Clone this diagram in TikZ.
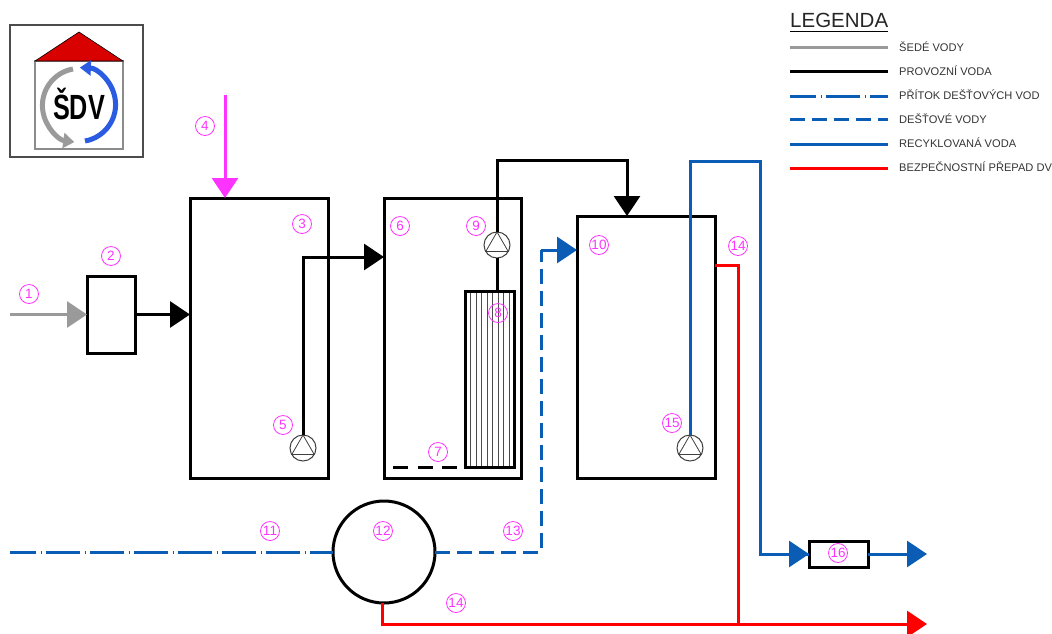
\documentclass[tikz,border=0pt]{standalone}
\usepackage{fontspec}
\setmainfont{Liberation Sans}
\usetikzlibrary{arrows.meta}

\definecolor{greywater}{HTML}{9A9A9A}
\definecolor{rainblue}{HTML}{0B5CB5}
\definecolor{safetyred}{HTML}{FF0000}
\definecolor{numpink}{HTML}{FF33FF}
\definecolor{roofred}{HTML}{D90000}
\definecolor{logoblue}{HTML}{2A5BE0}

\tikzset{
  flowtip/.style={-{Triangle[length=20pt,width=26pt]}},
  greyline/.style={line width=3pt, greywater},
  blackline/.style={line width=3pt, black},
  inflowline/.style={line width=3pt, rainblue, dash pattern=on 34pt off 4.5pt on 1pt off 4.5pt, dash phase=8pt},
  rainline/.style={line width=3pt, rainblue, dash pattern=on 15pt off 7pt},
  recycleline/.style={line width=3pt, rainblue},
  redline/.style={line width=3pt, safetyred},
  tankbox/.style={draw, line width=3pt, rectangle, inner sep=0pt, outer sep=0pt},
  pumpnode/.style={draw=black!75, line width=1pt, circle, fill=white, minimum size=26pt, inner sep=0pt, outer sep=0pt},
  numlabel/.style={draw=numpink, text=numpink, line width=.8pt, circle, minimum size=19pt, inner sep=0pt, font=\fontsize{13.5}{14}\selectfont},
  legendtext/.style={anchor=west, inner sep=0pt, text=black!80, font=\fontsize{11.1}{12}\selectfont}
}

\begin{document}
\begin{tikzpicture}[x=1pt,y=-1pt]

  \useasboundingbox (0,0) rectangle (1052,633);

  % Logo
  \draw[line width=1.1pt, black!70] (10,25) rectangle (143,157);
  \draw[line width=1.5pt, black!45] (35,61) rectangle (123,149);
  \filldraw[fill=roofred, draw=black, line width=.6pt] (35,61) -- (79,32) -- (123,61) -- cycle;
  \draw[-{Triangle[length=11pt,width=15pt]}, greywater, line width=5pt]
    (73,69) arc[start angle=-100,end angle=-262,radius=37];
  \draw[-{Triangle[length=11pt,width=15pt]}, logoblue, line width=5pt]
    (85,141) arc[start angle=80,end angle=-88,radius=37];
  \node[font=\bfseries\fontsize{35}{35}\selectfont, xscale=.72, inner sep=0pt, anchor=base] (logotext) at (79,119) {ŠDV};

  % Legend
  \node[anchor=west, inner sep=0pt, text=black!85, font=\fontsize{20.5}{22}\selectfont] (legendtitle) at (790,20) {LEGENDA};
  \draw[line width=1pt] (790,31.5) -- (888,31.5);
  \foreach \y/\sty/\txt in {47.5/greyline/ŠEDÉ VODY, 71.5/blackline/PROVOZNÍ VODA,
      96/inflowline/PŘÍTOK DEŠŤOVÝCH VOD, 119.5/rainline/DEŠŤOVÉ VODY,
      144/recycleline/RECYKLOVANÁ VODA, 168/redline/BEZPEČNOSTNÍ PŘEPAD DV} {
    \draw[\sty] (790,\y) -- (888,\y);
    \node[legendtext] at (899,\y-1) {\txt};
  }

  % Tanks and boxes
  \node[tankbox, minimum width=48pt, minimum height=77pt] (screen) at (111,314.5) {};
  \node[tankbox, minimum width=138pt, minimum height=280pt] (tankA) at (259,338) {};
  \node[tankbox, minimum width=137pt, minimum height=280pt] (tankB) at (452.5,338) {};
  \node[tankbox, minimum width=138pt, minimum height=262pt] (tankC) at (646,347) {};
  \node[tankbox, minimum width=59pt, minimum height=26pt] (filter) at (838.5,554) {};
  \node[tankbox, circle, minimum size=102pt] (retention) at (384,552) {};

  % Membrane
  \foreach \x in {470.5,476,...,510} {
    \draw[line width=.8pt, black!70] (\x,291) -- (\x,467);
  }
  \node[tankbox, minimum width=49pt, minimum height=176pt] (membrane) at (489.5,379) {};

  % Aeration
  \draw[black, line width=3pt, dash pattern=on 15pt off 9.5pt] (393,467) -- (458,467);

  % Pumps
  \node[pumpnode] (pumpA) at (303,448) {};
  \node[pumpnode] (pumpB) at (497,245) {};
  \node[pumpnode] (pumpC) at (690,448) {};
  \foreach \p in {pumpA,pumpB,pumpC} {
    \draw[line width=.8pt, black!75] (\p.90) -- (\p.210) -- (\p.330) -- cycle;
  }

  % Free ends of the lines
  \coordinate (greyStart) at (10,314.5);
  \coordinate (drinkStart) at (225,95);
  \coordinate (pumpATurn) at (303,257);
  \coordinate (pumpBTurn) at (627,160);
  \coordinate (inflowStart) at (10,552);
  \coordinate (rainTurn) at (541,250);
  \coordinate (recycleTurn) at (760,161);
  \coordinate (recycleEnd) at (927,554);
  \coordinate (overflowStart) at (715,265);
  \coordinate (overflowJoin) at (738,624);
  \coordinate (redEnd) at (927,624);

  % Grey water and service water
  \draw[greyline, flowtip] (greyStart) -- (screen.west);
  \draw[blackline, flowtip] (screen.east) -- (screen.east -| tankA.west);
  \draw[line width=3pt, numpink, flowtip] (drinkStart) -- (drinkStart |- tankA.north);
  \draw[blackline, flowtip] (pumpA.north) |- (pumpATurn -| tankB.west);
  \draw[blackline] (membrane.north -| pumpB) -- (pumpB.south);
  \draw[blackline, flowtip] (pumpB.north) |- (pumpBTurn) -- (pumpBTurn |- tankC.north);

  % Rain water
  \draw[inflowline] (inflowStart) -- (retention.west);
  \draw[rainline] (retention.east) -| (rainTurn);
  \draw[recycleline, flowtip] (rainTurn) -- (rainTurn -| tankC.west);

  % Recycled water
  \draw[recycleline] (pumpC.north) |- (recycleTurn) |- (filter.west);
  \draw[recycleline, flowtip] (recycleTurn |- filter.west) -- (filter.west);
  \draw[recycleline, flowtip] (filter.east) -- (recycleEnd);

  % Safety overflow
  \draw[redline] (overflowStart) -| (overflowJoin);
  \draw[redline, flowtip] (retention.268) |- (redEnd);

  % Numbers
  \node[numlabel] (num1) at (29,294) {1};
  \node[numlabel] (num2) at (111,256) {2};
  \node[numlabel] (num3) at (302,224) {3};
  \node[numlabel] (num4) at (205,126) {4};
  \node[numlabel] (num5) at (283,425) {5};
  \node[numlabel] (num6) at (400,226) {6};
  \node[numlabel] (num7) at (438,452) {7};
  \node[numlabel] (num8) at (498,313) {8};
  \node[numlabel] (num9) at (476,226) {9};
  \node[numlabel] (num10) at (599,245) {10};
  \node[numlabel] (num11) at (270,531) {11};
  \node[numlabel] (num12) at (383,531) {12};
  \node[numlabel] (num13) at (513,531) {13};
  \node[numlabel] (num14a) at (738,246) {14};
  \node[numlabel] (num14b) at (456,603) {14};
  \node[numlabel] (num15) at (672,423) {15};
  \node[numlabel] (num16) at (838,553) {16};

\end{tikzpicture}
\end{document}
